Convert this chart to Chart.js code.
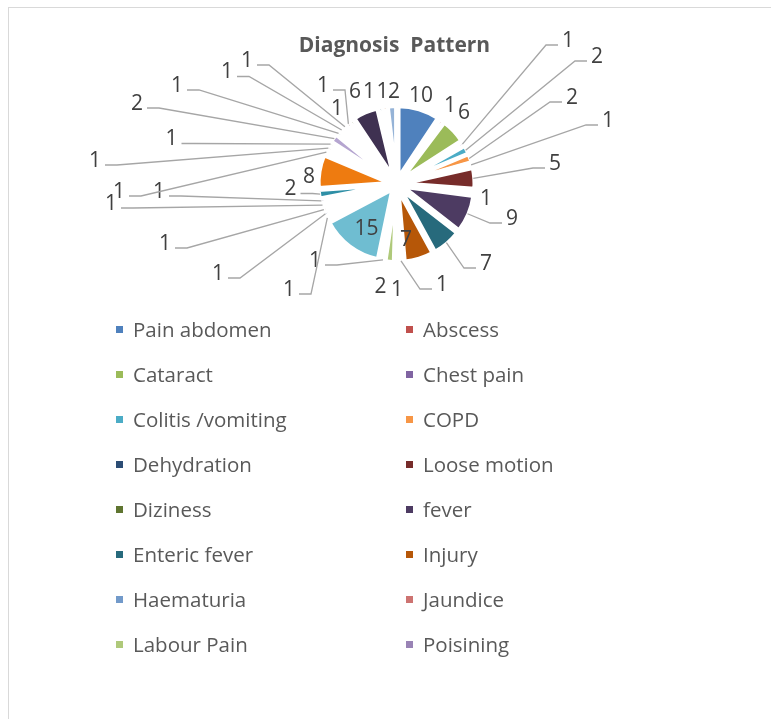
<!DOCTYPE html>
<html>
<head>
<meta charset="utf-8">
<title>Diagnosis Pattern</title>
<script src="https://cdn.jsdelivr.net/npm/chart.js@4.4.1/dist/chart.umd.min.js"></script>
<style>
  html, body { margin: 0; padding: 0; background: #fff; }
  body { width: 771px; height: 719px; position: relative; overflow: hidden; font-family: "Open Sans", sans-serif; }
  #frame { position: absolute; left: 8px; top: 7px; width: 820px; height: 800px; border: 1px solid #d9d9d9; }
  #wrap { position: absolute; left: 0; top: 0; width: 771px; height: 719px; }
  #title { position: absolute; left: 0; width: 789px; top: 34px; text-align: center; font-weight: 700;
           font-size: 21px; line-height: 21px; color: #595959; white-space: pre; }
  .lg-box { position: absolute; width: 7px; height: 7px; }
  .lg-text { position: absolute; font-size: 20.5px; line-height: 24px; color: #595959; white-space: nowrap; }
</style>
</head>
<body>
<div id="frame"></div>
<div id="wrap"><canvas id="pieChart"></canvas></div>
<div id="title">Diagnosis  Pattern</div>
<div id="legend"></div>

<script>
// categories (only the first 16 are named in the legend of the original)
const categories = [
  'Pain abdomen', 'Abscess', 'Cataract', 'Chest pain', 'Colitis /vomiting', 'COPD',
  'Dehydration', 'Loose motion', 'Diziness', 'fever', 'Enteric fever', 'Injury',
  'Haematuria', 'Jaundice', 'Labour Pain', 'Poisining',
  'Other 1', 'Other 2', 'Other 3', 'Other 4', 'Other 5', 'Other 6', 'Other 7',
  'Other 8', 'Other 9', 'Other 10', 'Other 11', 'Other 12', 'Other 13', 'Other 14',
  'Other 15', 'Other 16', 'Other 17', 'Other 18', 'Other 19', 'Other 20', 'Other 21'
];

// number of patients per diagnosis
const counts = [
  10, 1, 6, 1, 2, 2,
  1, 5, 1, 9, 7, 7,
  1, 1, 2, 1,
  15, 1, 1, 1, 1, 1, 2,
  8, 1, 1, 1, 2, 1, 1,
  1, 1, 1, 6, 1, 1, 2
];

const legendCount = 16;

// office style palette, one per slice
const sliceColors = [
  '#4F81BD', '#C0504D', '#9BBB59', '#8064A2', '#4BACC6', '#F79646',
  '#2C4D75', '#772C2A', '#5F7530', '#4D3B62', '#276A7C', '#B65708',
  '#729ACA', '#CD7371', '#AFC97A', '#9983B5', '#6FBDD1', '#F9AB6B',
  '#3A5F8B', '#9E3B38', '#7E9C40', '#664E84', '#2E8FA6', '#EE7B10',
  '#95B3D7', '#D99694', '#C3D69B', '#B5A5D0', '#93CDDD', '#FAC090',
  '#254061', '#632523', '#4F6228', '#3F3151', '#215968', '#984807',
  '#95B3D7'
];

// where each value label sits, relative to pie centre: [dx, dy, hasLeader]
const labelSpots = [
  [24.5, -90, 0], [53.5, -80, 0], [67.5, -73, 0], [171.5, -145, 1], [200.5, -129, 1], [175.5, -88, 1],
  [211.5, -65, 1], [158.5, -22, 1], [89.5, 13, 0], [115.5, 33, 1], [89.5, 78, 1], [9.5, 54, 0],
  [45.5, 99, 1], [0.5, 104, 0], [-16, 101.5, 0], [-81.5, 75, 1],
  [-30, 43.5, 0], [-107.5, 104, 1], [-178.5, 88, 1], [-231.5, 58, 1], [-285.5, 18, 1], [-237.5, 6, 1], [-106, 3.5, 1],
  [-87.5, -8.5, 0], [-277.5, 6, 1], [-301.5, -25, 1], [-225, -46.5, 1], [-259.5, -82, 1], [-219.5, -100, 1], [-169.5, -113.5, 1],
  [-149.5, -125, 1], [-73.5, -100, 1], [-59.5, -76.5, 0], [-41.5, -93.5, 0], [-27.5, -93.5, 0], [-14, -93.5, 0], [-2.5, -93.5, 0]
];

const EXPLODE = 7;

// push every slice out from the centre (like excel's point explosion)
const explodePlugin = {
  id: 'explode',
  afterDatasetsUpdate(chart) {
    const { left, right, top, bottom } = chart.chartArea;
    const cx = (left + right) / 2, cy = (top + bottom) / 2;
    chart.getDatasetMeta(0).data.forEach(arc => {
      const mid = (arc.startAngle + arc.endAngle) / 2;
      arc.x = cx + Math.cos(mid) * EXPLODE;
      arc.y = cy + Math.sin(mid) * EXPLODE;
    });
  }
};

// value labels with leader lines
const labelPlugin = {
  id: 'sliceLabels',
  afterDatasetsDraw(chart) {
    const ctx = chart.ctx;
    const { left, right, top, bottom } = chart.chartArea;
    const cx = (left + right) / 2, cy = (top + bottom) / 2;
    const meta = chart.getDatasetMeta(0);
    ctx.save();
    ctx.font = '21px "Open Sans"';
    ctx.textAlign = 'center';
    ctx.textBaseline = 'alphabetic';
    ctx.strokeStyle = '#A6A6A6';
    ctx.lineWidth = 1.3;
    ctx.fillStyle = '#404040';
    meta.data.forEach((arc, i) => {
      const spot = labelSpots[i];
      const text = String(counts[i]);
      const lx = cx + spot[0], ly = cy + spot[1];
      if (spot[2]) {
        const w = ctx.measureText(text).width;
        const onRight = spot[0] > 0;
        const hx = onRight ? lx - w / 2 - 4 : lx + w / 2 + 4;
        const ex = onRight ? hx - 12 : hx + 12;
        const hy = ly + 6;
        const mid = (arc.startAngle + arc.endAngle) / 2;
        const r = arc.outerRadius + EXPLODE - 1;
        ctx.beginPath();
        ctx.moveTo(hx, hy);
        ctx.lineTo(ex, hy);
        ctx.lineTo(cx + Math.cos(mid) * r, cy + Math.sin(mid) * r);
        ctx.stroke();
      }
      ctx.fillText(text, lx, ly + 7.5);
    });
    ctx.restore();
  }
};

new Chart(document.getElementById('pieChart'), {
  type: 'pie',
  data: {
    labels: categories,
    datasets: [{
      data: counts,
      backgroundColor: sliceColors,
      borderColor: '#ffffff',
      borderWidth: 4,
      radius: 71
    }]
  },
  options: {
    responsive: true,
    maintainAspectRatio: false,
    animation: false,
    layout: { padding: { left: 22, right: 0, top: 0, bottom: 351 } },
    plugins: {
      legend: { display: false },
      tooltip: { enabled: false },
      title: { display: false }
    }
  },
  plugins: [explodePlugin, labelPlugin]
});

// legend: two columns, first 16 categories like the original
const legendEl = document.getElementById('legend');
const colBox = [116, 406], colText = [133, 423];
for (let i = 0; i < legendCount; i++) {
  const col = i % 2, row = Math.floor(i / 2);
  const yc = 329.5 + row * 45;
  const box = document.createElement('div');
  box.className = 'lg-box';
  box.style.left = colBox[col] + 'px';
  box.style.top = (yc - 3.5) + 'px';
  box.style.background = sliceColors[i];
  const txt = document.createElement('div');
  txt.className = 'lg-text';
  txt.style.left = colText[col] + 'px';
  txt.style.top = (yc - 12.6) + 'px';
  txt.textContent = categories[i];
  legendEl.appendChild(box);
  legendEl.appendChild(txt);
}
</script>
</body>
</html>
